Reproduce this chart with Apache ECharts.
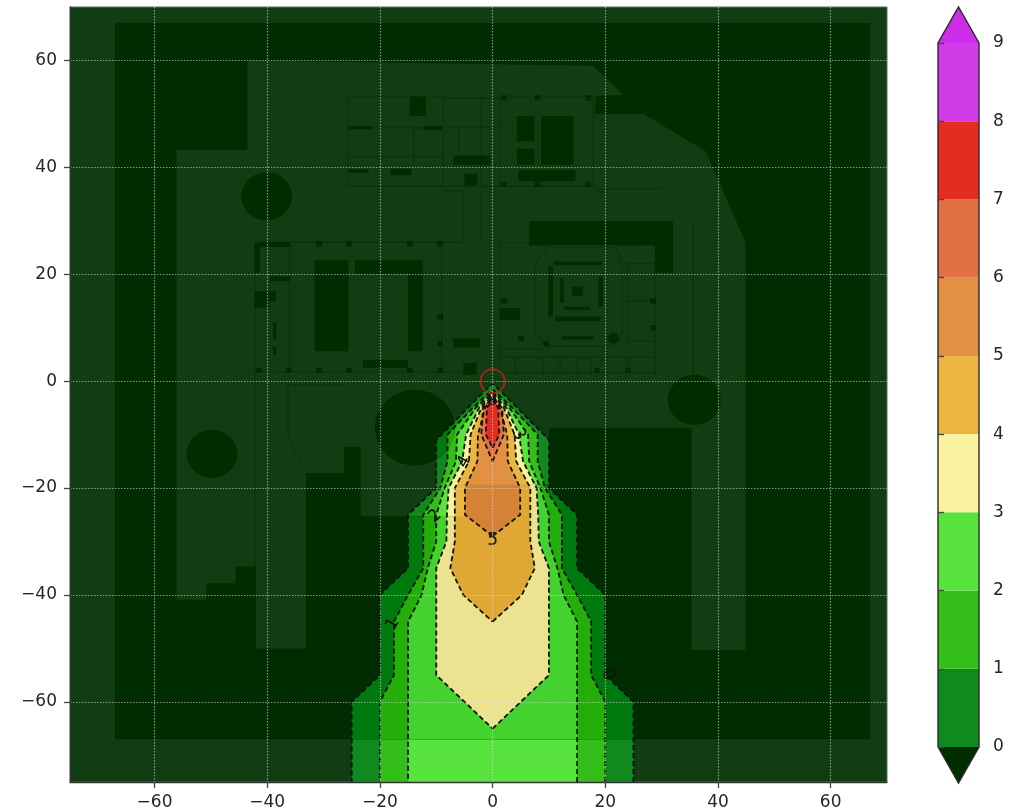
<!DOCTYPE html>
<html>
<head>
<meta charset="utf-8">
<script src="https://cdn.jsdelivr.net/npm/echarts@6/dist/echarts.min.js"></script>
<style>html,body{margin:0;padding:0;background:#fff}#main{filter:blur(0.5px)}</style>
</head>
<body>
<div id="main" style="width:1023px;height:812px;"></div>
<script type="text/javascript">
var xTicks = [-60, -40, -20, 0, 20, 40, 60];
var yTicks = [-60, -40, -20, 0, 20, 40, 60];
var barTicks = [0, 1, 2, 3, 4, 5, 6, 7, 8, 9];
var bandColors = ['#108a1e', '#33be1a', '#58e33e', '#fbf29f', '#ebb53f', '#e29044', '#e36f44', '#e22d1f', '#d13ce8'];
// same bands where the floor plan image is dark
var bandColorsDark = ['#007a0e', '#23ae0a', '#44d32e', '#ebe38f', '#dfa832', '#d68236', '#d35f34', '#d21d0f', '#c12cd8'];
var underColor = '#002d00';
var overColor = '#cc2de8';

// contour outlines, right half only (the field is symmetric about x=0)
var level0 = [[25, -75], [25, -60], [20, -55], [20, -40], [15, -35], [15, -25], [10, -20], [10, -11], [2.6, -3.1], [0, -0.5]];
var level1 = [[20, -75], [20, -60], [17.5, -55], [17.5, -45], [15, -40], [12.3, -35], [12.3, -25], [9.3, -20], [8, -15], [8, -10], [3.5, -5], [0, -1.5]];
var level2 = [[15, -75], [15, -45], [12.6, -40], [11.5, -35], [10, -30], [10, -25], [8.5, -20], [6.5, -15], [6.3, -10], [3, -5], [0, -2]];
var level3 = [[0, -65], [10, -55], [10, -35], [8.2, -30], [8.1, -25], [7.8, -20], [5.4, -15], [4.7, -10], [2.4, -5], [0, -2.3]];
var level4 = [[0, -45], [5.2, -40], [7.5, -35], [6.7, -30], [6.7, -20], [4.2, -15], [3.9, -10], [2, -5], [0, -2.6]];
var level5 = [[0, -29], [4.9, -25], [4.9, -20], [2.7, -15], [2.6, -10], [1.3, -5], [0, -3]];
var level6 = [[0, -15], [2, -10], [1.7, -5], [0, -3.2]];
var level7 = [[0, -12.5], [1.2, -10], [1, -5], [0, -3.5]];
var levels = [level0, level1, level2, level3, level4, level5, level6, level7];

// contour labels: text, x, y, angle
var contourLabels = [
    ['0', 20.5, -55, -63],
    ['1', -17.7, -45.4, 62],
    ['2', -10.2, -25.3, 42],
    ['3', 4.6, -10, -60],
    ['4', -5, -15.1, 62],
    ['5', 0, -29.9, 0],
    ['8', 0, -3.7, 0]
];

var sourcePoint = [[0, 0]];

// floor plan: everything outside the building and its holes is the darker tone
var plotRect = [-75, 70, 70, -75];
var siteRect = [-67, 67, 67, -67];
var buildingOutline = [
    [-43.5, 60], [17.8, 59], [23.2, 53.6], [18.3, 53.3], [18.2, 50], [26.8, 50], [37.8, 43], [44.9, 26],
    [44.9, -50.3], [35.3, -50.3], [35.3, -8.7], [10, -8.7], [10, -19.3], [-5, -19.3], [-5, -25.3], [-23.4, -25.3],
    [-23.4, -12.3], [-26.4, -12.3], [-26.4, -17.2], [-33.1, -17.2], [-33.1, -50], [-42, -50], [-42, -34.7],
    [-45.6, -34.7], [-45.6, -37.8], [-50.8, -37.8], [-50.8, -40.9], [-56.1, -40.9], [-56.1, 43.3], [-43.5, 43.3]
];
var planHoles = [
    [-31.6, 22.6, -25.6, 5.6], [-24.4, 22.6, -12.4, 20.1], [-15, 20.1, -12.4, 5.6], [-23, 4, -15, 2.5],
    [-14.7, 53.2, -11.8, 49.6], [-25.5, 47.8, -21.5, 47.1], [-7, 42.2, -0.4, 40.5], [-18.1, 39.7, -14.4, 38.5],
    [-5, 38.8, -2.7, 36.6], [4.3, 49.6, 7.4, 44.9], [8.6, 49.6, 14.4, 40.5], [4.3, 43.5, 7.4, 40.5],
    [4.6, 39.5, 14.7, 37.4], [-25.5, 39.6, -22, 39], [-12.3, 47.7, -9, 47],
    [-42.2, 25.9, -41.3, 20.3], [-41.3, 26, -36, 25.1], [-39.6, 19.6, -36, 18.7], [-42.2, 16.8, -39.6, 13.7],
    [-39.6, 16.8, -38.4, 14.9], [-39, 11, -38.4, 7.8], [-39, 6.5, -38.4, 5],
    [-7, 8, -2.2, 6.3], [-5.2, 3.4, -2.8, 1.2],
    [6.5, 29.9, 32, 25.4], [28.9, 25.4, 32, 20.3],
    [14.1, 17.7, 16, 15.9], [10.8, 22.4, 19.4, 21.7], [9.9, 21.5, 10.7, 12.1], [18.8, 19.6, 19.6, 14],
    [11.1, 12.1, 19.1, 11.2], [12, 19.3, 12.6, 14.6], [12.6, 13.9, 17.3, 13.3], [12.3, 8.4, 17.9, 7.8],
    [1.3, 13.7, 4.9, 11.5]
];
var planPillars = [
    [-30.8, 25.7], [-25.5, 25.7], [-14.7, 25.7], [-9.3, 25.7], [-30.8, 2], [-25.5, 2], [-14.7, 2], [-9.3, 2],
    [-36.2, 2], [-41.5, 2], [-9.3, 12], [-9.3, 7], [2, 53], [8, 53], [17, 53], [2, 36.8], [8, 36.8], [17, 36.8],
    [9.5, 7], [28.5, 10], [28.5, 15], [18.5, 2], [24, 2], [2, 15], [5, 8]
];
var planCircles = [[-40.1, 34.6, 4.5], [-49.8, -13.6, 4.5], [-13.8, -8.7, 7.1], [35.8, -3.5, 4.7], [21.4, 8, 1]];
var planWalls = [
    [[-25.7, 53.3], [-8.8, 53.3], [-8.8, 36.5], [-25.7, 36.5], [-25.7, 53.3]],
    [[-8.8, 53], [1.3, 53]], [[-8.8, 36.5], [1.3, 36.5]],
    [[1.3, 53.3], [17.9, 53.3], [17.9, 36.5], [1.3, 36.5], [1.3, 53.3]],
    [[-25.5, 47.4], [-9, 47.4]], [[-25.5, 42], [-9, 42]], [[-14, 47.4], [-14, 41]], [[-2, 53], [-2, 36.5]],
    [[-8, 47.5], [1, 47.5]], [[-6, 47.5], [-6, 41]],
    [[-42.2, 26], [-5.2, 26]], [[-42.2, 1.8], [-5, 1.8]], [[-42.2, 26], [-42.2, 1.8]], [[-36, 26], [-36, 1.8]],
    [[-9, 26], [-9, 1.8]], [[-5.2, 35.6], [-5.2, 26.3]], [[-8.8, 35.6], [-5.2, 35.6]], [[-2, 35.6], [-2, 26.3]],
    [[1.3, 25.9], [28.9, 25.9], [28.9, 1.6], [1.3, 1.6], [1.3, 25.9]],
    [[7.5, 22], [10, 25], [22, 25], [23, 22], [23, 8.5], [21, 6.5], [10, 6.5], [7.5, 9], [7.5, 22]],
    [[23.5, 22], [28.9, 22]], [[23.5, 15], [28.9, 15]], [[24, 22], [24, 7.5], [28.9, 7.5]],
    [[1.3, 6], [9, 6]], [[1.3, 4.5], [28.9, 4.5]], [[4, 4.5], [4, 1.6]], [[9, 4.5], [9, 1.6]], [[12, 4.5], [12, 1.6]],
    [[15, 4.5], [15, 1.6]], [[17.5, 4.5], [17.5, 1.6]], [[24, 4.5], [24, 1.6]],
    [[35.6, 30], [35.6, 1]], [[18, 36], [30, 36]],
    [[-42.2, 1.8], [-42.2, -34.7]], [[-36.3, -0.7], [-25.7, -0.7]], [[-36.3, -0.7], [-36.3, -10.3], [-33.7, -16.2]]
];

function mirror(half) {
    var pts = half.slice();
    for (var i = half.length - 1; i >= 0; i--) {
        if (half[i][0] !== 0) pts.push([-half[i][0], half[i][1]]);
    }
    if (half[0][0] === 0) pts.push(half[0]);
    return pts;
}

function toPixels(api, pts) {
    return pts.map(function (p) { return api.coord(p); });
}

function ringPath(pts) {
    return pts.map(function (p, i) { return (i ? 'L' : 'M') + p[0] + ' ' + p[1]; }).join(' ') + ' Z ';
}

function rectPath(api, r) {
    return ringPath(toPixels(api, [[r[0], r[1]], [r[2], r[1]], [r[2], r[3]], [r[0], r[3]]]));
}

function rectShape(api, r) {
    var a = api.coord([r[0], r[1]]);
    var b = api.coord([r[2], r[3]]);
    return {x: a[0], y: a[1], width: b[0] - a[0], height: b[1] - a[1]};
}

function circlePath(api, c) {
    var a = api.coord([c[0] - c[2], c[1]]);
    var b = api.coord([c[0] + c[2], c[1]]);
    var rx = (b[0] - a[0]) / 2;
    var ry = rx * 5.342 / 5.625;
    return 'M' + a[0] + ' ' + a[1] + ' A' + rx + ' ' + ry + ' 0 1 1 ' + b[0] + ' ' + b[1] +
        ' A' + rx + ' ' + ry + ' 0 1 1 ' + a[0] + ' ' + a[1] + ' Z ';
}

function renderFills(params, api) {
    var i = params.dataIndex;
    return {
        type: 'polygon',
        shape: {points: toPixels(api, mirror(levels[i]))},
        style: {fill: bandColors[i]}
    };
}

// the dark tone of the plan is the whole contour picture again in darker colours,
// clipped to the site minus the building. Site and holes wind clockwise on screen,
// the building the other way, so non-zero filling cuts it out.
function renderPlan(params, api) {
    var d = rectPath(api, siteRect) + ringPath(toPixels(api, buildingOutline.slice().reverse()));
    planHoles.forEach(function (r) { d += rectPath(api, r); });
    planPillars.forEach(function (p) { d += rectPath(api, [p[0] - 0.5, p[1] + 0.5, p[0] + 0.5, p[1] - 0.5]); });
    planCircles.forEach(function (c) { d += circlePath(api, c); });
    var w = '';
    planWalls.forEach(function (line) {
        toPixels(api, line).forEach(function (p, i) { w += (i ? 'L' : 'M') + p[0] + ' ' + p[1] + ' '; });
    });
    var kids = [{type: 'rect', shape: rectShape(api, plotRect), style: {fill: underColor}}];
    levels.forEach(function (l, i) {
        kids.push({type: 'polygon', shape: {points: toPixels(api, mirror(l))}, style: {fill: bandColorsDark[i]}});
    });
    return {
        type: 'group',
        children: [
            {type: 'group', clipPath: {type: 'path', shape: {pathData: d}}, children: kids},
            {type: 'path', shape: {pathData: w}, style: {fill: null, stroke: 'rgba(0,30,0,0.3)', lineWidth: 1.2}}
        ]
    };
}

function renderLines(params, api) {
    return {
        type: 'polyline',
        shape: {points: toPixels(api, mirror(levels[params.dataIndex]))},
        style: {fill: null, stroke: '#111', lineWidth: 1.8, lineDash: [5, 3]}
    };
}

function renderLabels(params, api) {
    var l = contourLabels[params.dataIndex];
    var p = api.coord([l[1], l[2]]);
    return {
        type: 'text',
        x: p[0],
        y: p[1],
        rotation: l[3] * Math.PI / 180,
        style: {text: l[0], font: '17px "DejaVu Sans"', fill: '#111', align: 'center', verticalAlign: 'middle'}
    };
}

function renderBar(params, api) {
    var lo = barTicks[params.dataIndex];
    var a = api.coord([0, lo]);
    var b = api.coord([1, lo + 1]);
    return {
        type: 'rect',
        shape: {x: a[0], y: b[1], width: b[0] - a[0], height: a[1] - b[1]},
        style: {fill: bandColors[params.dataIndex]}
    };
}

function renderBarEnds(params, api) {
    var over = toPixels(api, [[0, 9], [0.5, 9.46], [1, 9]]);
    var under = toPixels(api, [[0, 0], [0.5, -0.46], [1, 0]]);
    var outline = toPixels(api, [[0, 0], [0.5, -0.46], [1, 0], [1, 9], [0.5, 9.46], [0, 9], [0, 0]]);
    return {
        type: 'group',
        children: [
            {type: 'polygon', shape: {points: over}, style: {fill: overColor}},
            {type: 'polygon', shape: {points: under}, style: {fill: underColor}},
            {type: 'polyline', shape: {points: outline}, style: {fill: null, stroke: '#2a2a2a', lineWidth: 1.4}}
        ]
    };
}

function minusLabel(v) {
    return v < 0 ? '\u2212' + Math.abs(v) : String(v);
}

var xText = {fontFamily: 'DejaVu Sans', fontSize: 17, color: '#262626', margin: 12, formatter: minusLabel};
var yText = {fontFamily: 'DejaVu Sans', fontSize: 17, color: '#262626', margin: 13, padding: [2, 0, 0, 0], formatter: minusLabel};
var barText = {fontFamily: 'DejaVu Sans', fontSize: 17, color: '#262626', margin: 14, padding: [2, 0, 0, 0]};
var gridLine = {show: true, lineStyle: {color: 'rgba(220,220,220,0.6)', type: [1.5, 1.5], width: 1.2}};
var tickStyle = {color: '#444', width: 1.3};

var myChart = echarts.init(document.getElementById('main'));

var option = {
    animation: false,
    backgroundColor: '#fff',
    grid: [
        {left: 70, top: 7, width: 817, height: 775, show: true, backgroundColor: '#103d12', borderColor: '#666', borderWidth: 1},
        {left: 938, top: 43, width: 41, height: 704}
    ],
    xAxis: [
        {
            type: 'value', gridIndex: 0, min: -75, max: 70, z: 5,
            axisLine: {onZero: false, lineStyle: {color: '#333', width: 1.3}},
            axisTick: {length: 6, customValues: xTicks, lineStyle: tickStyle},
            axisLabel: Object.assign({customValues: xTicks}, xText),
            splitLine: gridLine
        },
        {type: 'value', gridIndex: 1, min: 0, max: 1, show: false}
    ],
    yAxis: [
        {
            type: 'value', gridIndex: 0, min: -75, max: 70, z: 5,
            axisLine: {onZero: false, lineStyle: {color: '#333', width: 1.3}},
            axisTick: {length: 6, customValues: yTicks, lineStyle: tickStyle},
            axisLabel: Object.assign({customValues: yTicks}, yText),
            splitLine: gridLine
        },
        {
            type: 'value', gridIndex: 1, min: 0, max: 9, interval: 1, position: 'right', z: 5,
            axisLine: {show: false},
            axisTick: {length: 6, lineStyle: tickStyle},
            axisLabel: barText,
            splitLine: {show: false}
        }
    ],
    series: [
        {type: 'custom', name: 'fills', silent: true, z: 1, clip: true, renderItem: renderFills, data: levels.map(function (l, i) { return i; })},
        {type: 'custom', name: 'plan', silent: true, z: 2, renderItem: renderPlan, data: [0]},
        {type: 'custom', name: 'lines', silent: true, z: 3, clip: true, renderItem: renderLines, data: levels.map(function (l, i) { return i; })},
        {type: 'custom', name: 'labels', silent: true, z: 4, renderItem: renderLabels, data: contourLabels.map(function (l, i) { return i; })},
        {
            type: 'scatter', name: 'source', silent: true, z: 6, symbol: 'circle', symbolSize: 24,
            itemStyle: {color: 'rgba(0,0,0,0)', borderColor: '#c4201c', borderWidth: 2},
            data: sourcePoint
        },
        {type: 'custom', name: 'bar', silent: true, xAxisIndex: 1, yAxisIndex: 1, z: 1, renderItem: renderBar, data: bandColors.map(function (c, i) { return i; })},
        {type: 'custom', name: 'barEnds', silent: true, xAxisIndex: 1, yAxisIndex: 1, z: 2, renderItem: renderBarEnds, data: [0]}
    ]
};

myChart.setOption(option);
</script>
</body>
</html>
